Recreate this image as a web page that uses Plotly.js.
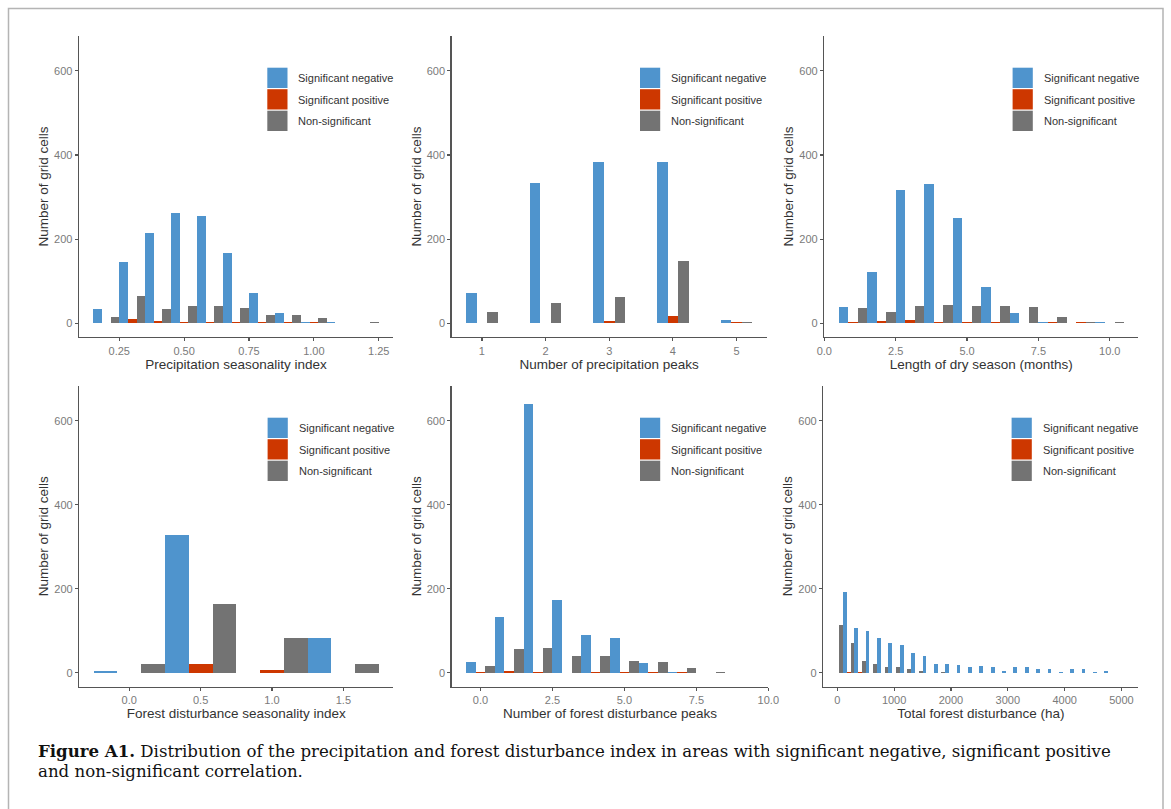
<!DOCTYPE html>
<html><head><meta charset="utf-8">
<script src="https://cdn.plot.ly/plotly-3.0.1.min.js"></script>
<style>html,body{margin:0;padding:0;background:#fff;} #chart{width:1171px;height:809px;}</style>
</head><body><div id="chart"></div>
<script>
// ---------- data ----------
const seriesNames = ['Significant negative', 'Significant positive', 'Non-significant'];
const yTicks = [0, 200, 400, 600];

const precipSeasonBins = [0.2, 0.3, 0.4, 0.5, 0.6, 0.7, 0.8, 0.9, 1.0, 1.1, 1.2];
const precipSeasonNeg = [33, 145, 214, 263, 254, 167, 72, 25, 3, 2, 0];
const precipSeasonPos = [0, 10, 6, 4, 4, 2, 3, 2, 2, 0, 0];
const precipSeasonNon = [14, 64, 35, 42, 42, 37, 19, 20, 13, 0, 4];
const precipSeasonTicks = [0.25, 0.5, 0.75, 1.0, 1.25];
const precipSeasonTickText = ['0.25', '0.50', '0.75', '1.00', '1.25'];

const precipPeaksBins = [1, 2, 3, 4, 5];
const precipPeaksNeg = [71, 334, 383, 383, 8];
const precipPeaksPos = [1, 1, 6, 17, 4];
const precipPeaksNon = [28, 48, 62, 149, 3];
const precipPeaksTicks = [1, 2, 3, 4, 5];
const precipPeaksTickText = ['1', '2', '3', '4', '5'];

const drySeasonBins = [1, 2, 3, 4, 5, 6, 7, 8, 9, 10];
const drySeasonNeg = [38, 122, 316, 331, 250, 87, 25, 3, 0, 2];
const drySeasonPos = [2, 6, 9, 3, 2, 4, 0, 2, 2, 0];
const drySeasonNon = [37, 27, 41, 43, 40, 41, 38, 14, 3, 2];
const drySeasonTicks = [0, 2.5, 5, 7.5, 10];
const drySeasonTickText = ['0.0', '2.5', '5.0', '7.5', '10.0'];

const distSeasonBins = [0, 0.5, 1.0, 1.5];
const distSeasonNeg = [4, 327, 0, 84];
const distSeasonPos = [0, 20, 6, 0];
const distSeasonNon = [20, 164, 82, 21];
const distSeasonTicks = [0, 0.5, 1.0, 1.5];
const distSeasonTickText = ['0.0', '0.5', '1.0', '1.5'];

const distPeaksBins = [0, 1, 2, 3, 4, 5, 6, 7, 8, 9];
const distPeaksNeg = [26, 132, 639, 173, 91, 82, 24, 3, 0, 0];
const distPeaksPos = [1, 5, 1, 0, 2, 2, 1, 2, 0, 0];
const distPeaksNon = [17, 56, 60, 40, 40, 28, 26, 11, 2, 0];
const distPeaksTicks = [0, 2.5, 5, 7.5, 10];
const distPeaksTickText = ['0.0', '2.5', '5.0', '7.5', '10.0'];

const totalDistBins = [0, 200, 400, 600, 800, 1000, 1200, 1400, 1600, 1800, 2000, 2200, 2400,
  2600, 2800, 3000, 3200, 3400, 3600, 3800, 4000, 4200, 4400, 4600, 4800];
const totalDistNeg = [0, 193, 107, 100, 84, 70, 66, 48, 40, 22, 22, 18, 15, 16, 14, 4, 14, 14, 10, 10, 2, 8, 8, 2, 4];
const totalDistPos = [0, 3, 2, 0, 0, 0, 0, 0, 0, 0, 0, 0, 0, 0, 0, 0, 0, 0, 0, 0, 0, 0, 0, 0, 0];
const totalDistNon = [113, 70, 27, 20, 14, 14, 10, 4, 0, 3, 0, 0, 0, 0, 0, 0, 0, 0, 0, 0, 0, 0, 0, 0, 0];
const totalDistTicks = [0, 1000, 2000, 3000, 4000, 5000];
const totalDistTickText = ['0', '1000', '2000', '3000', '4000', '5000'];

const xTitles = ['Precipitation seasonality index', 'Number of precipitation peaks', 'Length of dry season (months)',
  'Forest disturbance seasonality index', 'Number of forest disturbance peaks', 'Total forest disturbance (ha)'];
const yTitle = 'Number of grid cells';
const captionBold = 'Figure A1.';
const captionLine1 = ' Distribution of the precipitation and forest disturbance index in areas with significant negative, significant positive';
const captionLine2 = 'and non-significant correlation.';

// ---------- style / layout ----------
const W = 1171, H = 809;
const fx = p => p / W;
const fy = p => 1 - p / H;
const colors = ['#4F94CD', '#CD3700', '#737373'];
const FONT = 'Liberation Sans, Arial, sans-serif';

const panels = [
  {bins: precipSeasonBins, vals: [precipSeasonNeg, precipSeasonPos, precipSeasonNon], bw: 0.1,
   px: [79, 393], py: [36, 337], range: [0.095, 1.305], tv: precipSeasonTicks, tt: precipSeasonTickText},
  {bins: precipPeaksBins, vals: [precipPeaksNeg, precipPeaksPos, precipPeaksNon], bw: 0.5,
   px: [451.7, 766.7], py: [36, 337], range: [0.525, 5.475], tv: precipPeaksTicks, tt: precipPeaksTickText},
  {bins: drySeasonBins, vals: [drySeasonNeg, drySeasonPos, drySeasonNon], bw: 1,
   px: [824.3, 1138.3], py: [36, 337], range: [0, 11], tv: drySeasonTicks, tt: drySeasonTickText},
  {bins: distSeasonBins, vals: [distSeasonNeg, distSeasonPos, distSeasonNon], bw: 0.5,
   px: [79.3, 393.3], py: [386, 686.5], range: [-0.35, 1.85], tv: distSeasonTicks, tt: distSeasonTickText},
  {bins: distPeaksBins, vals: [distPeaksNeg, distPeaksPos, distPeaksNon], bw: 1,
   px: [451.7, 768.3], py: [386, 686.5], range: [-1, 10], tv: distPeaksTicks, tt: distPeaksTickText},
  {bins: totalDistBins, vals: [totalDistNeg, totalDistPos, totalDistNon], bw: 200,
   px: [823.3, 1138.3], py: [386, 686.5], range: [-246, 5296], tv: totalDistTicks, tt: totalDistTickText}
];

const traces = [];
const layout = {
  width: W, height: H,
  margin: {l: 0, r: 0, t: 0, b: 0},
  paper_bgcolor: '#fff', plot_bgcolor: 'rgba(0,0,0,0)',
  barmode: 'overlay', bargap: 0,
  showlegend: false,
  font: {family: FONT, color: '#333'},
  shapes: [], annotations: []
};

panels.forEach((p, i) => {
  const n = i + 1;
  const xa = 'x' + (n === 1 ? '' : n), ya = 'y' + (n === 1 ? '' : n);
  const sub = p.bw / 3;
  p.vals.forEach((v, s) => {
    traces.push({
      type: 'bar', name: seriesNames[s], x: p.bins, y: v,
      width: sub, offset: -p.bw / 2 + s * sub,
      marker: {color: colors[s], line: {width: 0}},
      xaxis: xa, yaxis: ya, showlegend: false, hoverinfo: 'x+y+name'
    });
  });
  const axCommon = {
    showline: true, linecolor: '#555', linewidth: 1.4,
    ticks: 'outside', ticklen: 3, tickwidth: 1.2, tickcolor: '#555',
    showgrid: false, zeroline: false, automargin: false, fixedrange: true,
    tickfont: {family: FONT, size: 11, color: '#7a7a7a'}
  };
  layout['xaxis' + (n === 1 ? '' : n)] = Object.assign({}, axCommon, {
    domain: [fx(p.px[0]), fx(p.px[1])], range: p.range, anchor: ya,
    tickmode: 'array', tickvals: p.tv, ticktext: p.tt,
    title: {text: xTitles[i], font: {family: FONT, size: 13.5, color: '#333'}, standoff: 3}
  });
  layout['yaxis' + (n === 1 ? '' : n)] = Object.assign({}, axCommon, {
    domain: [fy(p.py[1]), fy(p.py[0])], range: [-32.5, 682.5], anchor: xa,
    tickmode: 'array', tickvals: yTicks, ticktext: yTicks.map(String),
    title: {text: yTitle, font: {family: FONT, size: 13.5, color: '#333'}, standoff: 2}
  });
  // manual legend (ggplot-style keys)
  const rowOff = [31.7, 53.2, 74.7];
  seriesNames.forEach((name, s) => {
    const top = p.py[0] + rowOff[s];
    layout.shapes.push({type: 'rect', xref: 'paper', yref: 'paper',
      x0: fx(p.px[0] + 188.3), x1: fx(p.px[0] + 208.5), y0: fy(top), y1: fy(top + 20.3),
      fillcolor: colors[s], line: {width: 0}});
    layout.annotations.push({xref: 'paper', yref: 'paper', x: fx(p.px[0] + 217.3), y: fy(top + 10.3),
      xanchor: 'left', yanchor: 'middle', showarrow: false, text: name,
      font: {family: FONT, size: 11, color: '#333'}});
  });
});

// figure frame
layout.shapes.push({type: 'rect', xref: 'paper', yref: 'paper', x0: fx(8.5), x1: fx(1163), y0: fy(830), y1: fy(8.5),
  line: {color: '#b4b4b4', width: 1.5}, fillcolor: 'rgba(0,0,0,0)'});

// caption
const SERIF = 'DejaVu Serif, Liberation Serif, serif';
layout.annotations.push({xref: 'paper', yref: 'paper', x: fx(36), y: fy(751), xanchor: 'left', yanchor: 'middle',
  showarrow: false, align: 'left', text: '<b>' + captionBold + '</b>' + captionLine1,
  font: {family: SERIF, size: 16.6, color: '#111'}});
layout.annotations.push({xref: 'paper', yref: 'paper', x: fx(36), y: fy(771), xanchor: 'left', yanchor: 'middle',
  showarrow: false, align: 'left', text: captionLine2,
  font: {family: SERIF, size: 16.6, color: '#111'}});

Plotly.newPlot('chart', traces, layout, {displayModeBar: false, staticPlot: true});
</script>
</body></html>
